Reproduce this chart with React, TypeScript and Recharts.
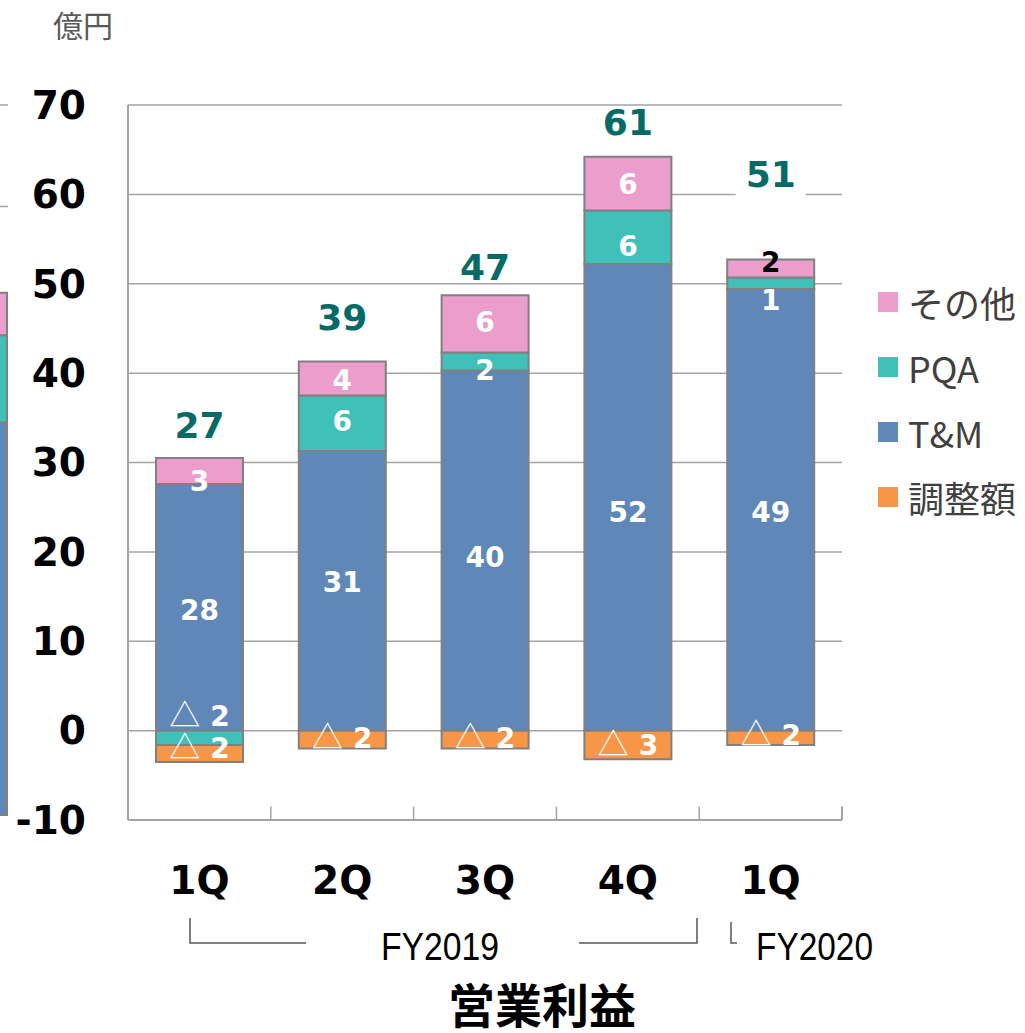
import React from "react";
import { Bar, BarChart, CartesianGrid, LabelList, ReferenceLine, XAxis, YAxis } from "recharts";

// quarters on the x axis
const periods = ["FY19-1Q", "FY19-2Q", "FY19-3Q", "FY19-4Q", "FY20-1Q"];
const quarterLabels = ["1Q", "2Q", "3Q", "4Q", "1Q"];

// 億円
const tmValues = [27.6, 31.3, 40.3, 52.2, 49.4];
const pqaValues = [-1.6, 6.2, 2.0, 6.0, 1.3];
const adjValues = [-1.9, -2.0, -2.0, -3.2, -1.6];
const otherValues = [2.9, 3.8, 6.4, 6.0, 2.0];

const yTicks = [-10, 0, 10, 20, 30, 40, 50, 60, 70];

// cut-off bar of the neighbouring chart at the left edge
const prevTm = [38.7];
const prevPqa = [8.6];
const prevOther = [4.2];

// small label nudges (px) so labels sit where the slide had them
const tmNudge = [3, -9, 6, 15, 2];
const pqaNudge = [-22, -2, 8, 9, 17];
const adjNudge = [-5, -2, -2, 0, -3];
const otherNudge = [10, 2, -2, 0, -7];
const totalLift = [33, 45, 28, 35, 86];

const COLORS = { other: "#EB9ECB", pqa: "#3FC0B8", tm: "#5F88B8", adj: "#F79646" };
const legendItems = [
  { name: "その他", color: COLORS.other },
  { name: "PQA", color: COLORS.pqa },
  { name: "T&M", color: COLORS.tm },
  { name: "調整額", color: COLORS.adj },
];

const FONT = '"DejaVu Sans", Verdana, sans-serif';
const JP = '"Noto Sans CJK JP", "Noto Sans", sans-serif';
const GRID = "#a3a3a3";
const BORDER = "#808080";

const rows = periods.map((period, i) => ({
  period,
  tm: tmValues[i],
  pqa: pqaValues[i],
  adj: adjValues[i],
  other: otherValues[i],
}));
const totals = periods.map((_, i) => Math.round(tmValues[i] + pqaValues[i] + adjValues[i] + otherValues[i]));

const prevRows = [{ period: "prev", tm: prevTm[0], pqa: prevPqa[0], other: prevOther[0] }];

function box(props: any) {
  const vb = props.viewBox ?? props;
  const x = Number(vb.x ?? props.x);
  const y = Number(vb.y ?? props.y);
  const w = Number(vb.width ?? props.width);
  const h = Number(vb.height ?? props.height);
  return { x, y, w, h };
}

function segmentLabel(values: number[], nudges: number[], darkIndex = -1) {
  return (props: any) => {
    const { x, y, w, h } = box(props);
    const i = props.index;
    const v = values[i];
    const cx = x + w / 2;
    const cy = y + h / 2 + nudges[i];
    const fill = i === darkIndex ? "#000" : "#fff";
    const n = Math.round(Math.abs(v));
    if (v < 0) {
      return (
        <text x={cx} y={cy + 10} textAnchor="middle" fill={fill} fontFamily={FONT} fontWeight={700} fontSize={28}>
          <tspan fontFamily={JP} fontWeight={400} fontSize={31}>△</tspan>
          <tspan dx={10}>{n}</tspan>
        </text>
      );
    }
    return (
      <text x={cx} y={cy + 10} textAnchor="middle" fill={fill} fontFamily={FONT} fontWeight={700} fontSize={28}>
        {n}
      </text>
    );
  };
}

function totalLabel(props: any) {
  const { x, y, w, h } = box(props);
  const i = props.index;
  const top = Math.min(y, y + h);
  const cx = x + w / 2;
  const cy = top - totalLift[i];
  return (
    <g>
      {i === periods.length - 1 && <rect x={cx - 35} y={cy - 24} width={70} height={50} fill="#fff" />}
      <text x={cx} y={cy + 13} textAnchor="middle" fill="#066b66" fontFamily={FONT} fontWeight={700} fontSize={36}>
        {totals[i]}
      </text>
    </g>
  );
}

export default function App() {
  return (
    <div style={{ position: "absolute", left: 0, top: 0, width: 1025, height: 1033, overflow: "hidden", background: "#fff" }}>
      {/* neighbouring chart, cut off at the left edge */}
      <div style={{ position: "absolute", left: 0, top: 0, width: 8, height: 1033, overflow: "hidden" }}>
        <div style={{ position: "absolute", left: -192, top: 0 }}>
          <BarChart width={200} height={1033} data={prevRows} margin={{ top: 105, right: 0, bottom: 218, left: 111 }}>
            <CartesianGrid vertical={false} stroke={GRID} strokeWidth={1.5} />
            <XAxis dataKey="period" hide />
            <YAxis hide domain={[0, 70]} ticks={[0, 10, 20, 30, 40, 50, 60, 70]} />
            <Bar dataKey="tm" stackId="p" fill={COLORS.tm} stroke={BORDER} strokeWidth={2} barSize={87} isAnimationActive={false} />
            <Bar dataKey="pqa" stackId="p" fill={COLORS.pqa} stroke={BORDER} strokeWidth={2} barSize={87} isAnimationActive={false} />
            <Bar dataKey="other" stackId="p" fill={COLORS.other} stroke={BORDER} strokeWidth={2} barSize={87} isAnimationActive={false} />
          </BarChart>
        </div>
      </div>

      <div style={{ position: "absolute", left: 0, top: 0 }}>
        <BarChart
          width={1025}
          height={1033}
          data={rows}
          stackOffset="sign"
          margin={{ top: 105, right: 183, bottom: 153, left: 28 }}
        >
          <CartesianGrid vertical={false} stroke={GRID} strokeWidth={1.5} />
          <XAxis
            dataKey="period"
            height={60}
            tickLine={false}
            tickSize={0}
            tickMargin={46}
            axisLine={{ stroke: GRID, strokeWidth: 2 }}
            tickFormatter={(_v: string, i: number) => quarterLabels[i]}
            tick={{ fill: "#000", fontSize: 39, fontWeight: 700, fontFamily: FONT }}
          />
          <YAxis
            width={100}
            domain={[-10, 70]}
            ticks={yTicks}
            interval={0}
            tickLine={false}
            tickSize={0}
            tickMargin={42}
            axisLine={{ stroke: GRID, strokeWidth: 2 }}
            tick={{ fill: "#000", fontSize: 39, fontWeight: 700, fontFamily: FONT }}
          />
          {periods.map((p) => (
            <ReferenceLine
              key={"t" + p}
              segment={[{ x: p, y: -10 }, { x: p, y: -8.5 }]}
              position="start"
              stroke={GRID}
              strokeWidth={1.5}
            />
          ))}
          <ReferenceLine
            segment={[{ x: periods[periods.length - 1], y: -10 }, { x: periods[periods.length - 1], y: -8.5 }]}
            position="end"
            stroke={GRID}
            strokeWidth={2}
          />
          <Bar dataKey="tm" stackId="s" fill={COLORS.tm} stroke={BORDER} strokeWidth={2} barSize={87} isAnimationActive={false}>
            <LabelList dataKey="tm" content={segmentLabel(tmValues, tmNudge)} />
          </Bar>
          <Bar dataKey="pqa" stackId="s" fill={COLORS.pqa} stroke={BORDER} strokeWidth={2} barSize={87} isAnimationActive={false}>
            <LabelList dataKey="pqa" content={segmentLabel(pqaValues, pqaNudge)} />
          </Bar>
          <Bar dataKey="adj" stackId="s" fill={COLORS.adj} stroke={BORDER} strokeWidth={2} barSize={87} isAnimationActive={false}>
            <LabelList dataKey="adj" content={segmentLabel(adjValues, adjNudge)} />
          </Bar>
          <Bar dataKey="other" stackId="s" fill={COLORS.other} stroke={BORDER} strokeWidth={2} barSize={87} isAnimationActive={false}>
            <LabelList dataKey="other" content={segmentLabel(otherValues, otherNudge, periods.length - 1)} />
            <LabelList dataKey="other" content={totalLabel} />
          </Bar>
        </BarChart>
      </div>

      {/* unit */}
      <div style={{ position: "absolute", left: 53, top: 2, fontFamily: JP, fontSize: 30, color: "#595959" }}>億円</div>

      {/* legend */}
      <div style={{ position: "absolute", left: 878, top: 269 }}>
        {legendItems.map((it) => (
          <div key={it.name} style={{ display: "flex", alignItems: "center", height: 65 }}>
            <div style={{ width: 20, height: 20, background: it.color, marginRight: 10 }} />
            <span style={{ fontFamily: JP, fontSize: 36, color: "#404040", lineHeight: 1 }}>{it.name}</span>
          </div>
        ))}
      </div>

      {/* fiscal year brackets and title */}
      <svg width={1025} height={1033} style={{ position: "absolute", left: 0, top: 0, pointerEvents: "none" }}>
        <g stroke="#555" strokeWidth={1.5} fill="none">
          <polyline points="190,918 190,943 306,943" />
          <polyline points="579,943 697,943 697,918" />
          <polyline points="731,922 731,943 737,943" />
        </g>
        <text x={381} y={960} fontFamily='"Liberation Sans Narrow", "Liberation Sans", sans-serif' fontSize={39} fill="#000" textLength={118} lengthAdjust="spacingAndGlyphs">
          FY2019
        </text>
        <text x={756} y={960} fontFamily='"Liberation Sans Narrow", "Liberation Sans", sans-serif' fontSize={39} fill="#000" textLength={117} lengthAdjust="spacingAndGlyphs">
          FY2020
        </text>
        <text x={542} y={1023} textAnchor="middle" fontFamily={JP} fontWeight={700} fontSize={47} fill="#000">
          営業利益
        </text>
      </svg>
    </div>
  );
}
